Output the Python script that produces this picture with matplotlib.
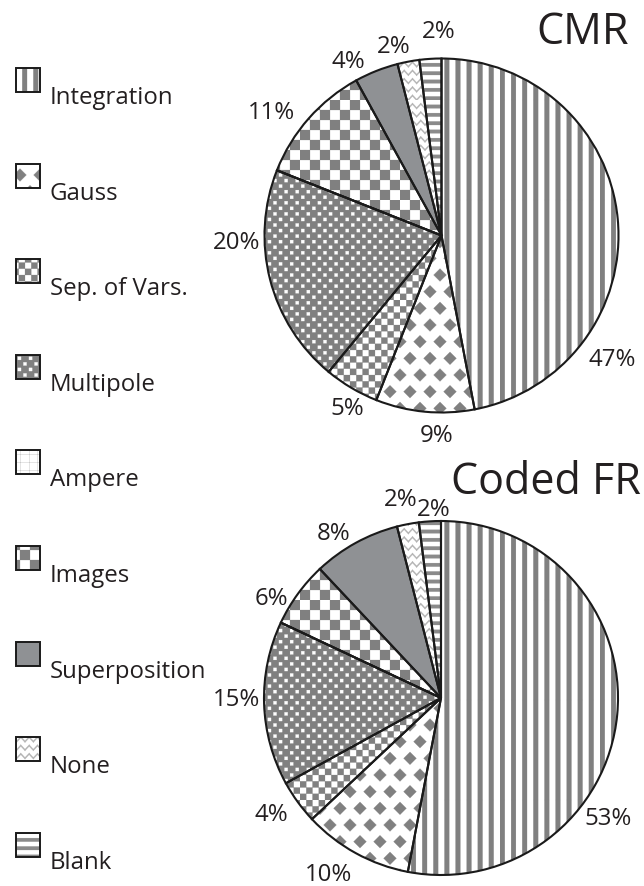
import warnings
warnings.filterwarnings("ignore")
import numpy as np
import matplotlib
matplotlib.use("Agg")
import matplotlib.pyplot as plt
import matplotlib.hatch as mhatch
from matplotlib.path import Path
from matplotlib.patches import Rectangle

# ---------------- data ----------------
categories = ['Integration', 'Gauss', 'Sep. of Vars.', 'Multipole', 'Ampere',
              'Images', 'Superposition', 'None', 'Blank']
cmr_values = [47, 9, 5, 20, 0, 11, 4, 2, 2]
codedfr_values = [53, 10, 4, 15, 0, 6, 8, 2, 2]
titles = ['CMR', 'Coded FR']

# ---------------- layout / style ----------------
plt.rcParams['font.family'] = ['Open Sans', 'DejaVu Sans']
plt.rcParams['hatch.linewidth'] = 0.15
TXT = '#231f20'
GRAY = '#808080'

# label positions (x, y in units of pie radius) - layout only
cmr_label_pos = [(0.963, -0.703), (-0.025, -1.133), (-0.534, -0.980),
                 (-1.155, -0.042), None, (-0.958, 0.692), (-0.528, 0.980),
                 (-0.268, 1.065), (-0.014, 1.150)]
cfr_label_pos = [(0.944, -0.684), (-0.633, -1.0), (-0.960, -0.661),
                 (-1.153, -0.011), None, (-0.960, 0.559), (-0.605, 0.927),
                 (-0.226, 1.119), (-0.040, 1.062)]


# ---------------- custom hatch patterns ----------------
def rect(x0, y0, x1, y1):
    return [(x0, y0), (x1, y0), (x1, y1), (x0, y1)]


def vstripes(n, w):
    return [rect(k / n, 0, k / n + w, 1) for k in range(n)]


def hstripes(n, w):
    return [rect(0, k / n, 1, k / n + w) for k in range(n)]


def checker(n):
    s = 1.0 / n
    return [rect(i * s, j * s, (i + 1) * s, (j + 1) * s)
            for i in range(n) for j in range(n) if (i + j) % 2 == 0]


def diamonds(ncol, nrow, hw, hh):
    polys = []
    dx, dy = 1.0 / ncol, 1.0 / nrow
    for j in range(nrow):
        cy = j * dy + dy / 2
        off = (j % 2) * dx / 2
        for i in range(-1, ncol + 1):
            cx = i * dx + dx / 2 + off
            if cx + hw < 0 or cx - hw > 1:
                continue
            polys.append([(cx - hw, cy), (cx, cy - hh), (cx + hw, cy), (cx, cy + hh)])
    return polys


def dots(ncol, nrow, s):
    polys = []
    dx, dy = 1.0 / ncol, 1.0 / nrow
    for j in range(nrow):
        cy = j * dy + dy / 2
        off = (j % 2) * dx / 2
        for i in range(-1, ncol + 1):
            cx = i * dx + dx / 4 + off
            if cx + s < 0 or cx - s > 1:
                continue
            polys.append(rect(cx - s / 2, cy - s / 2, cx + s / 2, cy + s / 2))
    return polys


def zigzag(nrow, ncol, amp, t):
    polys = []
    p = 1.0 / ncol
    for j in range(nrow):
        y = j / nrow
        for i in range(ncol):
            x = i * p
            polys.append([(x, y - t / 2), (x + p / 2, y + amp - t / 2),
                          (x + p / 2, y + amp + t / 2), (x, y + t / 2)])
            polys.append([(x + p / 2, y + amp - t / 2), (x + p, y - t / 2),
                          (x + p, y + t / 2), (x + p / 2, y + amp + t / 2)])
    return polys


def make_hatch(char, polys):
    class PolyHatch(mhatch.HatchPatternBase):
        def __init__(self, hatch, density):
            self.on = char in hatch
            self.num_vertices = sum(len(q) + 1 for q in polys) if self.on else 0

        def set_vertices_and_codes(self, vertices, codes):
            i = 0
            for q in polys:
                k = len(q)
                vertices[i:i + k] = q
                vertices[i + k] = q[0]
                codes[i] = Path.MOVETO
                codes[i + 1:i + k] = Path.LINETO
                codes[i + k] = Path.CLOSEPOLY
                i += k + 1
    mhatch._hatch_types.append(PolyHatch)


make_hatch('V', vstripes(9, 0.048))
make_hatch('H', hstripes(12, 0.036))
make_hatch('C', checker(10))
make_hatch('S', checker(16))
make_hatch('D', diamonds(5, 6, 0.064, 0.064))
make_hatch('M', dots(9, 18, 0.032))
make_hatch('Z', zigzag(12, 12, 0.045, 0.018))

faces = ['white', 'white', 'white', GRAY, 'white', 'white', '#8f9194', 'white', 'white']
hatches = ['V', 'D', 'S', 'M', '++', 'C', None, 'Z', 'H']
hatch_colors = [GRAY, GRAY, GRAY, 'white', GRAY, GRAY, '#8f9194', '#b3b3b3', '#8a8a8a']

# ---------------- figure ----------------
W, H = 644, 886
fig = plt.figure(figsize=(W / 100, H / 100), dpi=100)


def draw_pie(values, center, R, label_pos, title, title_right, title_base):
    cx, cy = center
    ax = fig.add_axes([(cx - R) / W, 1 - (cy + R) / H, 2 * R / W, 2 * R / H])
    wedges, _ = ax.pie(values, startangle=90, counterclock=False, colors=faces,
                       hatch=hatches, radius=1)
    for w, hc in zip(wedges, hatch_colors):
        w.set_edgecolor(hc)
        w.set_linewidth(0)
    ax.pie(values, startangle=90, counterclock=False, radius=1,
           wedgeprops=dict(facecolor='none', edgecolor='#1a1a1a',
                           linewidth=1.5, zorder=3))
    ax.set_xlim(-1, 1)
    ax.set_ylim(-1, 1)
    ax.set_aspect('equal')
    ax.axis('off')
    for v, pos in zip(values, label_pos):
        if pos is None or v == 0:
            continue
        ax.text(pos[0], pos[1], f"{v}%", ha='center', va='center',
                fontsize=17.3, color=TXT, zorder=5)
    fig.text(title_right / W, 1 - title_base / H, title, ha='right',
             va='baseline', fontsize=31, color=TXT)


draw_pie(cmr_values, (441.5, 235.5), 177, cmr_label_pos, titles[0], 629, 44)
draw_pie(codedfr_values, (441, 698), 177, cfr_label_pos, titles[1], 641, 494)

# ---------------- legend ----------------
for k, cat in enumerate(categories):
    top = 68 + k * 95.6
    x0, s = 16, 24
    r1 = Rectangle((x0 / W, 1 - (top + s) / H), s / W, s / H,
                   transform=fig.transFigure, facecolor=faces[k],
                   hatch=hatches[k], edgecolor=hatch_colors[k], linewidth=0)
    fig.add_artist(r1)
    r2 = Rectangle((x0 / W, 1 - (top + s) / H), s / W, s / H,
                   transform=fig.transFigure, facecolor='none',
                   edgecolor='#1a1a1a', linewidth=1.4)
    fig.add_artist(r2)
    fig.text(50 / W, 1 - (top + 36) / H, cat, ha='left', va='baseline',
             fontsize=17.3, color=TXT)

fig.savefig('out.png', dpi=100)
